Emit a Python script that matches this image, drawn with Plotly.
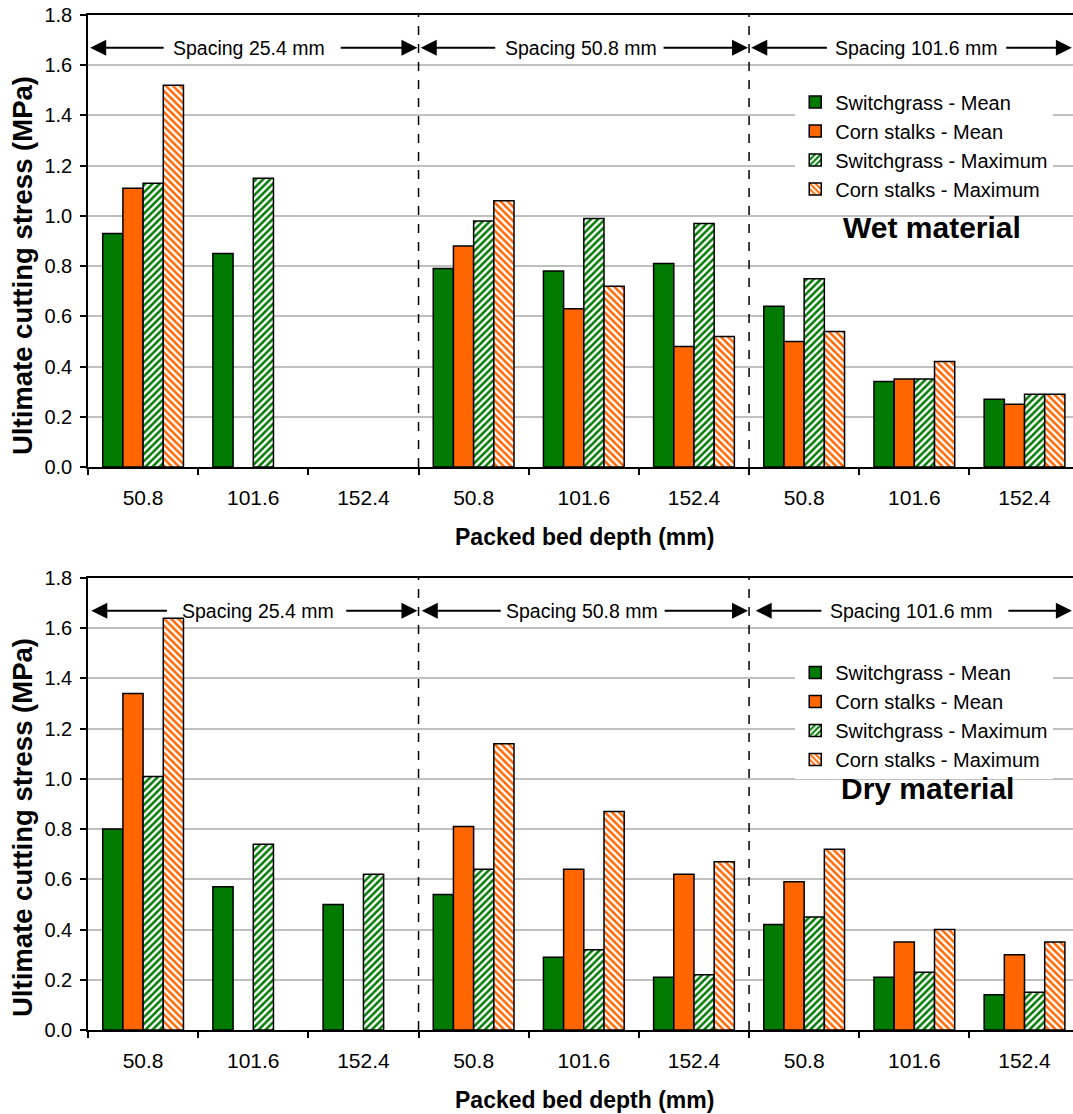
import plotly.graph_objects as go

# ---------------- data ----------------
depth_labels = ["50.8", "101.6", "152.4", "50.8", "101.6", "152.4", "50.8", "101.6", "152.4"]
spacing_labels = ["Spacing 25.4 mm", "Spacing 50.8 mm", "Spacing 101.6 mm"]
series_names = ["Switchgrass - Mean", "Corn stalks - Mean",
                "Switchgrass - Maximum", "Corn stalks - Maximum"]
panel_titles = ["Wet material", "Dry material"]

wet_sg_mean = [0.93, 0.85, None, 0.79, 0.78, 0.81, 0.64, 0.34, 0.27]
wet_cs_mean = [1.11, None, None, 0.88, 0.63, 0.48, 0.50, 0.35, 0.25]
wet_sg_max = [1.13, 1.15, None, 0.98, 0.99, 0.97, 0.75, 0.35, 0.29]
wet_cs_max = [1.52, None, None, 1.06, 0.72, 0.52, 0.54, 0.42, 0.29]

dry_sg_mean = [0.80, 0.57, 0.50, 0.54, 0.29, 0.21, 0.42, 0.21, 0.14]
dry_cs_mean = [1.34, None, None, 0.81, 0.64, 0.62, 0.59, 0.35, 0.30]
dry_sg_max = [1.01, 0.74, 0.62, 0.64, 0.32, 0.22, 0.45, 0.23, 0.15]
dry_cs_max = [1.64, None, None, 1.14, 0.87, 0.67, 0.72, 0.40, 0.35]

# ---------------- style ----------------
FONT = "Liberation Sans, Arial, sans-serif"
GREEN = "#007A00"
ORANGE = "#FF6600"
x_idx = list(range(len(depth_labels)))

fig = go.Figure()


def add_panel(vals, xa, ya, leg):
    styles = [
        dict(color=GREEN),
        dict(color=ORANGE),
        dict(color="white", pattern=dict(shape="/", fgcolor=GREEN, bgcolor="white",
                                         fillmode="replace", size=5, solidity=0.5)),
        dict(color="white", pattern=dict(shape="\\", fgcolor=ORANGE, bgcolor="white",
                                         fillmode="replace", size=5, solidity=0.5)),
    ]
    for name, v, st in zip(series_names, vals, styles):
        marker = dict(line=dict(color="black", width=1.5), **st)
        fig.add_trace(go.Bar(x=x_idx, y=v, name=name, marker=marker,
                             xaxis=xa, yaxis=ya, legend=leg))


add_panel([wet_sg_mean, wet_cs_mean, wet_sg_max, wet_cs_max], "x", "y", "legend")
add_panel([dry_sg_mean, dry_cs_mean, dry_sg_max, dry_cs_max], "x2", "y2", "legend2")

xaxis_common = dict(
    range=[-0.5, 8.44], tickmode="array", tickvals=x_idx, ticktext=depth_labels,
    ticks="", showgrid=False, showline=True, linecolor="black", linewidth=1.5,
    mirror=True, zeroline=False, ticklabelstandoff=11,
    tickfont=dict(family=FONT, size=21, color="black"),
    minor=dict(tickmode="array", tickvals=[i + 0.5 for i in range(-1, 9)],
               ticks="outside", ticklen=6, tickcolor="black", tickwidth=1.5,
               showgrid=False),
)
yaxis_common = dict(
    range=[0, 1.8], dtick=0.2, tick0=0, tickformat=".1f",
    showgrid=True, gridcolor="#C0C0C0", gridwidth=1.5,
    showline=True, linecolor="black", linewidth=1.5, zeroline=False,
    ticks="outside", ticklen=6, tickcolor="black", tickwidth=1.5,
    ticklabelstandoff=4, tickfont=dict(family=FONT, size=20, color="black"),
)

fig.update_layout(
    width=1073, height=1114,
    margin=dict(l=88, r=0, t=15, b=84),
    paper_bgcolor="white", plot_bgcolor="white",
    barmode="group", bargap=0.267, bargroupgap=0,
    font=dict(family=FONT, color="black"),
    xaxis=dict(domain=[0, 1], anchor="y", **xaxis_common),
    yaxis=dict(domain=[0.5547, 1], anchor="x", **yaxis_common),
    xaxis2=dict(domain=[0, 1], anchor="y2", **xaxis_common),
    yaxis2=dict(domain=[0, 0.4453], anchor="x2", **yaxis_common),
    legend=dict(x=0.718, y=0.9336, xanchor="left", yanchor="top",
                bgcolor="white", borderwidth=0,
                font=dict(family=FONT, size=20, color="black"),
                tracegroupgap=0),
    legend2=dict(x=0.718, y=0.3714, xanchor="left", yanchor="top",
                 bgcolor="white", borderwidth=0,
                 font=dict(family=FONT, size=20, color="black"),
                 tracegroupgap=0),
)

# dashed separators between spacing groups
for xa, ya in [("x", "y"), ("x2", "y2")]:
    for xb in [2.5, 5.5]:
        fig.add_shape(type="line", xref=xa, yref=ya + " domain", x0=xb, x1=xb, y0=0, y1=1,
                      line=dict(color="black", width=1.5, dash="dash"))

# spacing arrows and labels
arrow_y = 1.67
segs = {
    "x": [(-0.48, 0.20, 1.78, 2.49), (2.52, 3.21, 4.71, 5.49), (5.52, 6.22, 7.82, 8.43)],
    "x2": [(-0.47, 0.23, 1.83, 2.49), (2.53, 3.26, 4.72, 5.49), (5.56, 6.17, 7.84, 8.43)],
}
text_x = {"x": [0.96, 3.97, 7.02], "x2": [1.04, 3.98, 6.97]}
for xa, ya in [("x", "y"), ("x2", "y2")]:
    for (lt, li, ri, rt), lab, tx in zip(segs[xa], spacing_labels, text_x[xa]):
        for tip, inner in [(lt, li), (rt, ri)]:
            fig.add_annotation(x=tip, y=arrow_y, ax=inner, ay=arrow_y, xref=xa, yref=ya,
                               axref=xa, ayref=ya, text="", showarrow=True,
                               arrowhead=2, arrowsize=1.6, arrowwidth=2,
                               arrowcolor="black", standoff=0, startstandoff=0)
        fig.add_annotation(x=tx, y=arrow_y, xref=xa, yref=ya, text=lab, showarrow=False,
                           xanchor="center", yanchor="middle",
                           font=dict(family=FONT, size=19.5, color="black"))

# panel titles
for t, (px, py) in zip(panel_titles, [(0.857, 0.791), (0.852, 0.2384)]):
    fig.add_annotation(x=px, y=py, xref="paper", yref="paper", text="<b>%s</b>" % t,
                       showarrow=False, xanchor="center", yanchor="middle",
                       font=dict(family=FONT, size=30, color="black"))

# axis titles
for py in [0.7527, 0.199]:
    fig.add_annotation(x=-0.067, y=py, xref="paper", yref="paper",
                       text="<b>Ultimate cutting stress (MPa)</b>", textangle=-90,
                       showarrow=False, xanchor="center", yanchor="middle",
                       font=dict(family=FONT, size=27.5, color="black"))
for py in [0.4858, -0.069]:
    fig.add_annotation(x=0.5036, y=py, xref="paper", yref="paper",
                       text="<b>Packed bed depth (mm)</b>",
                       showarrow=False, xanchor="center", yanchor="middle",
                       font=dict(family=FONT, size=23, color="black"))

fig.write_html("out.html", config={"displayModeBar": False},
               post_script="document.body.style.margin='0';document.body.style.overflow='hidden';")
